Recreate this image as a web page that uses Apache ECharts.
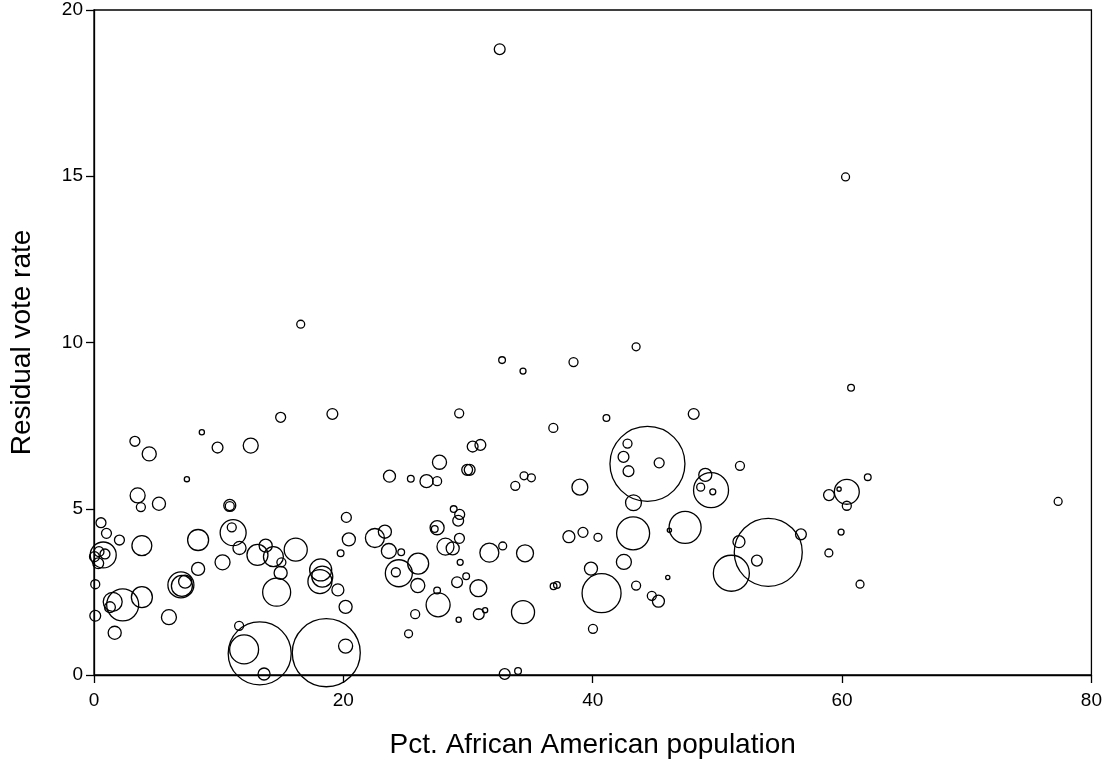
<!DOCTYPE html>
<html>
<head>
<meta charset="utf-8">
<script src="https://cdn.jsdelivr.net/npm/echarts@6/dist/echarts.min.js"></script>
<style>
html,body{margin:0;padding:0;background:#fff;}
#chart{width:1105px;height:773px;}
</style>
</head>
<body>
<div id="chart"></div>
<script>
// Pct. African American population (x)
var pctBlack = [
14.97,19.12,3.28,4.43,8.65,9.91,12.57,7.45,3.50,3.76,5.21,10.89,10.89,0.56,1.00,2.04,3.84,8.35,11.16,11.05,
11.67,13.11,13.77,14.39,15.03,16.18,19.78,0.74,0.40,0.88,0.04,0.34,10.31,8.35,6.97,7.05,7.31,14.97,14.65,18.18,
18.31,18.12,19.56,0.10,2.30,1.50,1.28,3.84,0.10,6.01,1.66,11.64,13.29,12.04,13.64,18.63,20.18,
29.29,36.84,30.37,30.99,27.71,23.70,25.41,26.67,27.52,29.93,30.13,34.49,35.08,33.79,38.97,20.24,20.44,22.53,23.33,
23.65,24.64,24.45,24.21,26.00,25.97,27.52,27.33,28.85,29.33,29.21,29.31,28.19,28.77,29.37,29.85,29.12,30.83,31.71,
32.78,34.57,36.86,37.13,38.09,27.52,27.60,20.18,25.76,25.23,29.25,30.86,31.37,34.41,32.94,34.01,
41.10,48.10,44.39,42.79,42.47,42.87,45.33,51.81,49.03,49.49,48.66,49.63,43.27,43.24,47.41,46.15,39.22,40.42,42.50,
39.86,40.71,43.48,46.02,44.74,45.27,40.02,54.08,51.73,56.70,53.17,51.12,
60.72,62.06,60.38,58.95,59.76,60.38,77.33,59.92,58.94,61.44,
16.58,32.73,34.41,38.46,60.28,43.48,32.54
];
// Residual vote rate (y)
var residualRate = [
7.75,7.85,7.03,6.65,7.30,6.84,6.90,5.89,5.40,5.05,5.15,5.10,5.08,4.58,4.26,4.06,3.89,4.06,4.28,4.44,
3.82,3.61,3.89,3.56,3.39,3.77,3.66,3.61,3.71,3.64,3.56,3.36,3.39,3.19,2.71,2.68,2.81,3.07,2.49,3.16,
2.96,2.81,2.56,2.73,2.11,2.20,2.04,2.34,1.78,1.74,1.27,1.48,0.65,0.77,0.03,0.67,0.87,
7.87,7.43,6.87,6.92,6.40,5.98,5.90,5.83,5.83,6.17,6.17,5.99,5.93,5.69,5.65,4.74,4.08,4.12,4.31,
3.73,3.69,3.06,3.09,3.35,2.69,4.43,4.39,4.99,4.83,4.64,4.11,3.86,3.81,3.39,2.97,2.79,2.61,3.68,
3.88,3.66,2.67,2.71,4.16,2.54,2.11,2.05,1.83,1.24,1.66,1.83,1.95,1.89,0.03,0.12,
7.73,7.85,6.35,6.96,6.56,6.13,6.38,6.29,6.02,5.56,5.65,5.51,5.18,4.26,4.44,4.35,4.29,4.14,3.40,
3.20,2.46,2.69,2.93,2.38,2.22,1.39,3.69,4.01,4.23,3.44,3.06,
8.64,5.95,5.51,5.41,5.59,5.09,5.22,4.30,3.67,2.73,
10.55,9.47,9.14,9.41,14.98,9.87,18.82
];
// Relative bubble weight (e.g. county size)
var weight = [
11,13,11,22,3,13,25,3,25,9,19,16,9,11,11,11,44,49,75,9,
19,49,19,44,9,59,5,75,11,11,11,13,25,19,75,49,19,19,87,54,
49,64,16,9,114,40,13,49,13,25,19,9,441,93,16,514,22,
9,9,13,13,22,16,5,19,9,13,13,7,7,9,28,11,19,40,19,
25,5,81,9,49,22,22,5,5,11,13,11,32,19,4,5,13,32,40,
7,32,5,5,16,5,64,19,9,7,3,13,3,59,13,5,
5,13,625,9,13,13,11,9,19,136,7,4,28,121,114,2,11,7,25,
19,169,9,2,9,16,9,514,16,13,13,144,
5,5,69,13,2,9,7,4,7,7,
7,5,4,9,7,7,13
];
var xTicks = [0, 20, 40, 60, 80];
var yTicks = [0, 5, 10, 15, 20];

var points = pctBlack.map(function (x, i) { return [x, residualRate[i], weight[i]]; });

var chart = echarts.init(document.getElementById('chart'), null, {renderer: 'canvas'});
var font = '"Liberation Sans", Arial, sans-serif';
chart.setOption({
  animation: false,
  backgroundColor: '#fff',
  grid: {left: 93, right: 13, top: 10, bottom: 98, show: true, borderColor: '#000', borderWidth: 1.3, backgroundColor: 'transparent'},
  xAxis: {
    type: 'value', min: xTicks[0], max: xTicks[xTicks.length - 1], interval: 20,
    name: 'Pct. African American population', nameLocation: 'middle', nameGap: 56,
    nameTextStyle: {fontFamily: font, fontSize: 28, color: '#000'},
    axisLine: {show: true, lineStyle: {color: '#000', width: 1.3}},
    axisTick: {show: true, length: 8, lineStyle: {color: '#000', width: 1.3}},
    axisLabel: {fontFamily: font, fontSize: 19, color: '#000', margin: 16},
    splitLine: {show: false}
  },
  yAxis: {
    type: 'value', min: yTicks[0], max: yTicks[yTicks.length - 1], interval: 5,
    name: 'Residual vote rate', nameLocation: 'middle', nameGap: 58, nameRotate: 90,
    nameTextStyle: {fontFamily: font, fontSize: 28, color: '#000'},
    axisLine: {show: true, lineStyle: {color: '#000', width: 1.3}},
    axisTick: {show: true, length: 8, lineStyle: {color: '#000', width: 1.3}},
    axisLabel: {fontFamily: font, fontSize: 19, color: '#000', margin: 11},
    splitLine: {show: false}
  },
  series: [{
    type: 'scatter',
    data: points,
    symbol: 'circle',
    symbolSize: function (d) { return 3 * Math.sqrt(d[2]); },
    itemStyle: {color: 'rgba(0,0,0,0)', borderColor: '#000', borderWidth: 1.3, opacity: 1},
    emphasis: {disabled: true}
  }]
});
</script>
</body>
</html>
